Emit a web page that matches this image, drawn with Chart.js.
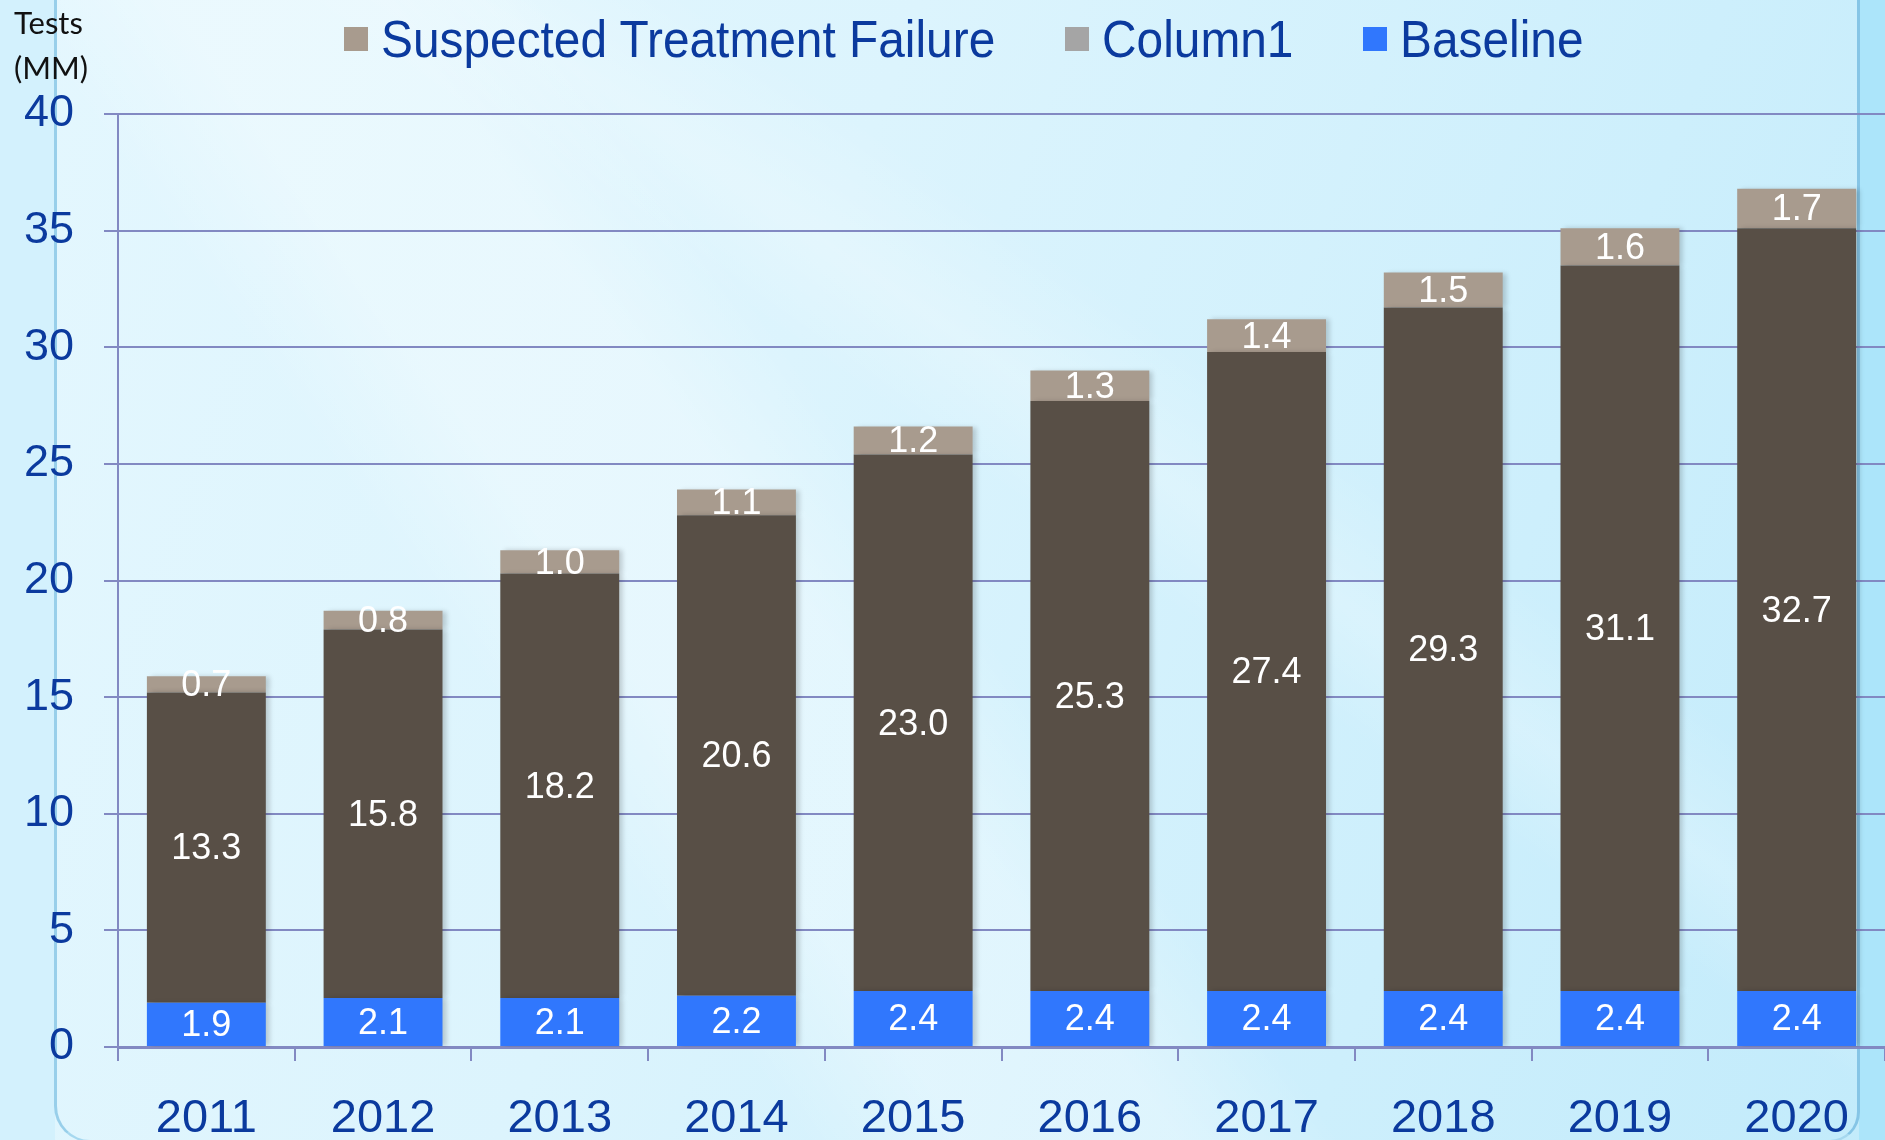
<!DOCTYPE html>
<html>
<head>
<meta charset="utf-8">
<title>Tests (MM) 2011-2020</title>
<script src="https://cdn.jsdelivr.net/npm/chart.js@4.4.1/dist/chart.umd.min.js"></script>
<style>
  html, body { margin: 0; padding: 0; width: 1885px; height: 1140px; overflow: hidden; }
  body {
    position: relative;
    font-family: "Liberation Sans", Arial, sans-serif;
    background:
      linear-gradient(55deg, rgba(255,255,255,0) 30%, rgba(255,255,255,0.3) 36%, rgba(255,255,255,0.3) 44%, rgba(255,255,255,0) 50%),
      linear-gradient(35deg, rgba(255,255,255,0) 55%, rgba(255,255,255,0.22) 60%, rgba(255,255,255,0) 66%),
      linear-gradient(110deg, #e4f7fe 0%, #dcf4fd 40%, #cdeffc 75%, #c2ebfb 100%);
  }
  #leftStrip { position: absolute; left: 0; top: 0; width: 55px; height: 1140px; background: #d3f1fd; }
  #rightStrip { position: absolute; left: 1859px; top: 0; width: 26px; height: 1140px; background: #ace5fa; }
  #frame {
    position: absolute; left: 54px; top: -20px; width: 1806px; height: 1162px;
    border-left: 3px solid #98cfea; border-right: 3px solid #86c5e6; border-bottom: 2px solid #a6d8ef;
    border-bottom-left-radius: 36px; border-bottom-right-radius: 30px; box-sizing: border-box;
  }
  #chartBox { position: absolute; left: 0; top: 0; width: 1885px; height: 1140px; }
  #unit {
    position: absolute; left: 14px; top: 0px; font-family: Lato, "Open Sans", sans-serif;
    font-size: 31px; line-height: 45px; color: #111;
  }
  .legItem { position: absolute; top: 14px; height: 50px; display: flex; align-items: center; white-space: nowrap; }
  .legBox { width: 24px; height: 24px; margin-right: 13px; }
  .legText { font-size: 52px; color: #0b3a9e; transform: scaleX(0.92); transform-origin: left center; line-height: 50px; }
</style>
</head>
<body>
<div id="leftStrip"></div>
<div id="rightStrip"></div>
<div id="frame"></div>
<div id="chartBox"><canvas id="testsChart" width="1885" height="1140"></canvas></div>
<div id="unit">Tests<br>(MM)</div>
<div id="legend"></div>
<script>
const years = ["2011", "2012", "2013", "2014", "2015", "2016", "2017", "2018", "2019", "2020"];
const baseline = [1.9, 2.1, 2.1, 2.2, 2.4, 2.4, 2.4, 2.4, 2.4, 2.4];
const monitoring = [13.3, 15.8, 18.2, 20.6, 23.0, 25.3, 27.4, 29.3, 31.1, 32.7];
const column1 = [null, null, null, null, null, null, null, null, null, null];
const suspectedFailure = [0.7, 0.8, 1.0, 1.1, 1.2, 1.3, 1.4, 1.5, 1.6, 1.7];
const yMax = 40;
const yStep = 5;

const tickColor = "#0b3a9e";
const gridColor = "#8289c2";

// legend order as in the picture, left edges of each item
const legendOrder = ["Suspected Treatment Failure", "Column1", "Baseline"];
const legendLeft = [344, 1065, 1363];

// white value labels centred in every segment
const segmentLabels = {
  id: "segmentLabels",
  beforeDatasetsDraw(chart) {
    const ctx = chart.ctx;
    ctx.save();
    ctx.shadowColor = "rgba(0,0,0,0.18)";
    ctx.shadowBlur = 5;
    ctx.shadowOffsetX = 4;
  },
  afterDatasetsDraw(chart) {
    const ctx = chart.ctx;
    ctx.restore();
    ctx.save();
    ctx.fillStyle = "#ffffff";
    ctx.font = '36px "Liberation Sans", Arial, sans-serif';
    ctx.textAlign = "center";
    ctx.textBaseline = "middle";
    chart.data.datasets.forEach((ds, i) => {
      const meta = chart.getDatasetMeta(i);
      meta.data.forEach((bar, j) => {
        const v = ds.data[j];
        if (v == null) return;
        const p = bar.getProps(["x", "y", "base"], true);
        ctx.fillText(v.toFixed(1), p.x, (p.y + p.base) / 2 + 2);
      });
    });
    ctx.restore();
  }
};

const ctx = document.getElementById("testsChart").getContext("2d");
const testsChart = new Chart(ctx, {
  type: "bar",
  data: {
    labels: years,
    datasets: [
      { label: "Baseline", data: baseline, backgroundColor: "#3077fd" },
      { label: "Monitoring", data: monitoring, backgroundColor: "#584f46" },
      { label: "Column1", data: column1, backgroundColor: "#a5a5a5" },
      { label: "Suspected Treatment Failure", data: suspectedFailure, backgroundColor: "#a89b8e" }
    ]
  },
  options: {
    responsive: false,
    animation: false,
    categoryPercentage: 1.0,
    barPercentage: 0.673,
    layout: { padding: { top: 114, left: 0, right: 0, bottom: 0 } },
    plugins: {
      legend: { display: false },
      tooltip: { enabled: false }
    },
    scales: {
      x: {
        stacked: true,
        ticks: { color: tickColor, font: { family: '"Liberation Sans", Arial, sans-serif', size: 47 }, padding: 30 },
        grid: { display: true, drawOnChartArea: false, offset: true, color: gridColor, lineWidth: 2, tickLength: 14 },
        border: { color: gridColor, width: 3 },
        afterFit(scale) { scale.height = 93; }
      },
      y: {
        stacked: true,
        min: 0,
        max: yMax,
        ticks: { stepSize: yStep, color: tickColor, font: { family: '"Liberation Sans", Arial, sans-serif', size: 45 }, padding: 30 },
        grid: { color: gridColor, lineWidth: 2, tickLength: 14 },
        border: { color: gridColor, width: 2 },
        afterFit(scale) { scale.width = 118; }
      }
    }
  },
  plugins: [segmentLabels]
});

// html legend built from the chart's datasets
const legendDiv = document.getElementById("legend");
legendOrder.forEach((name, k) => {
  const ds = testsChart.data.datasets.find(d => d.label === name);
  const item = document.createElement("div");
  item.className = "legItem";
  item.style.left = legendLeft[k] + "px";
  item.innerHTML = `<div class="legBox" style="background:${ds.backgroundColor}"></div><span class="legText">${ds.label}</span>`;
  legendDiv.appendChild(item);
});
</script>
</body>
</html>
